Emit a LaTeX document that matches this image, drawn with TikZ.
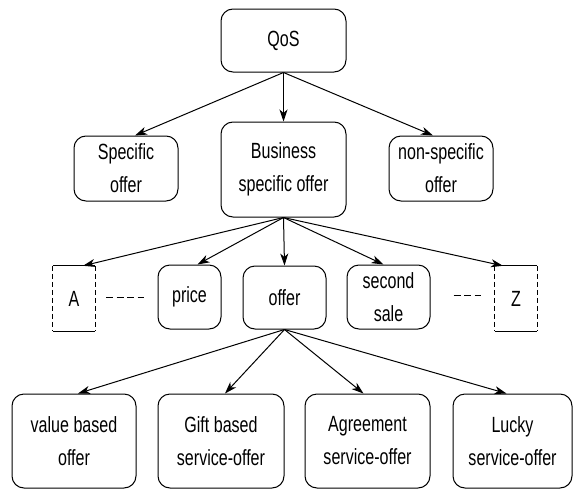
\documentclass[tikz,border=0pt]{standalone}
\usepackage{fontspec}
\setmainfont{Liberation Sans}[FakeStretch=0.73]
\usetikzlibrary{arrows.meta}
\begin{document}
\begin{tikzpicture}[x=1pt,y=-1pt,
  box/.style={draw, line width=1pt, rounded corners=12pt, inner sep=0pt,
    align=center, font=\fontsize{22pt}{33pt}\selectfont},
  plainbox/.style={inner sep=0pt, align=center, font=\fontsize{22pt}{33pt}\selectfont},
  conn/.style={line width=1pt, -{Stealth[length=12pt,width=8pt,inset=3.5pt]}},
  contdash/.style={line width=1pt, dash pattern=on 7pt off 3.5pt},
  sidedash/.style={line width=1pt, dash pattern=on 5pt off 3pt}]
\useasboundingbox (0,0) rectangle (573,490);

% top levels
\node[box, minimum width=125pt, minimum height=63pt] (qos) at (283.5,40.5) {QoS};
\node[box, minimum width=125pt, minimum height=95pt] (bus) at (283.5,169.5) {Business\\specific offer};
\node[box, minimum width=104pt, minimum height=65pt] (spec) at (126,168.5) {Specific\\offer};
\node[box, minimum width=104pt, minimum height=65pt] (nons) at (441,168.5) {non-specific\\offer};

% middle level
\node[plainbox, minimum width=42pt, minimum height=65pt] (A) at (74,298.5) {A};
\node[box, minimum width=63pt, minimum height=64pt] (price) at (189.5,297) {price};
\node[box, minimum width=83pt, minimum height=63pt] (offer) at (284.5,297.5) {offer};
\node[box, minimum width=83pt, minimum height=64pt] (second) at (388.5,297) {second\\sale};
\node[plainbox, minimum width=42pt, minimum height=65pt] (Z) at (516,298.5) {Z};

\foreach \n in {A,Z}{
  \draw[line width=1pt] (\n.north west) -- (\n.north east);
  \draw[line width=1pt] (\n.south west) -- (\n.south east);
  \draw[sidedash] (\n.north west) -- (\n.south west);
  \draw[sidedash] (\n.north east) -- (\n.south east);
}

% bottom level
\node[box, minimum width=124pt, minimum height=94pt] (value) at (74,441) {value based\\offer};
\node[box, minimum width=126pt, minimum height=94pt] (gift) at (221,441) {Gift based\\service-offer};
\node[box, minimum width=125pt, minimum height=94pt] (agree) at (367.5,441) {Agreement\\service-offer};
\node[box, minimum width=119pt, minimum height=94pt] (lucky) at (512.5,441) {Lucky\\service-offer};

% connectors
\draw[conn] (qos.south) -- ([xshift=9pt]spec.north);
\draw[conn] (qos.south) -- (bus.north);
\draw[conn] (qos.south) -- ([xshift=-8pt]nons.north);

\draw[conn] (bus.south) -- ([xshift=9pt]A.north);
\draw[conn] (bus.south) -- ([xshift=8pt]price.north);
\draw[conn] (bus.south) -- (offer.north);
\draw[conn] (bus.south) -- ([xshift=-5pt]second.north);
\draw[conn] (bus.south) -- ([xshift=-13pt]Z.north);

\draw[conn] (offer.south) -- ([xshift=4pt]value.north);
\draw[conn] (offer.south) -- ([xshift=4pt]gift.north);
\draw[conn] (offer.south) -- ([xshift=-4pt]agree.north);
\draw[conn] (offer.south) -- ([xshift=-6pt]lucky.north);

% continuation dashes
\draw[contdash, shorten <=11pt, shorten >=14pt] ([yshift=1.5pt]A.east) -- ([yshift=1.5pt]A.east -| price.west);
\draw[contdash, shorten <=23pt, shorten >=14pt] ([yshift=1.5pt]second.east) -- ([yshift=1.5pt]second.east -| Z.west);
\end{tikzpicture}
\end{document}
